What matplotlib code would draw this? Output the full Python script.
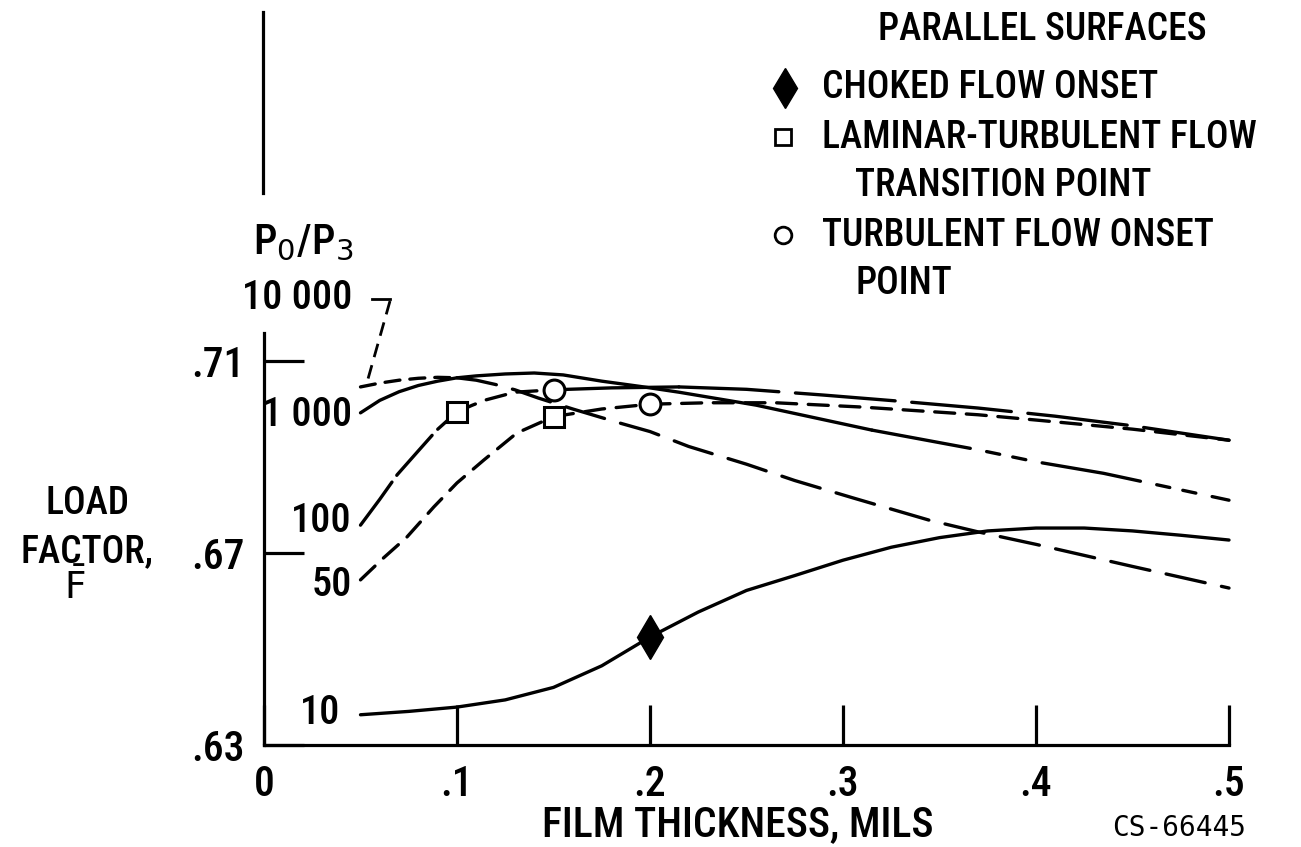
import numpy as np
import matplotlib
matplotlib.use("Agg")
from matplotlib import pyplot as plt

# --- curve data (film thickness in mils, load factor) ---
# P0/P3 = 10
x10 = [0.05, 0.075, 0.1, 0.125, 0.15, 0.175, 0.2, 0.225, 0.25, 0.275, 0.3, 0.325, 0.35, 0.375, 0.4, 0.425, 0.45, 0.475, 0.5]
y10 = [0.6363, 0.637, 0.6379, 0.6394, 0.642, 0.6465, 0.6525, 0.6577, 0.6622, 0.6653, 0.6685, 0.6712, 0.6732, 0.6746, 0.6752, 0.6752, 0.6746, 0.6737, 0.6727]

# P0/P3 = 50
x50 = [0.05, 0.062, 0.074, 0.088, 0.1, 0.114, 0.131, 0.15, 0.175, 0.2, 0.23, 0.265, 0.31, 0.37, 0.4, 0.45, 0.5]
y50 = [0.6644, 0.669, 0.6733, 0.6796, 0.6846, 0.6894, 0.695, 0.6984, 0.7, 0.701, 0.7013, 0.7013, 0.7004, 0.6988, 0.6977, 0.6958, 0.6935]

# P0/P3 = 100
x100 = [0.05, 0.06, 0.069, 0.08, 0.0895, 0.1, 0.108, 0.115, 0.13, 0.15, 0.18, 0.215, 0.25, 0.29, 0.33, 0.37, 0.41, 0.45, 0.5]
y100 = [0.6758, 0.6812, 0.6863, 0.6913, 0.6956, 0.6994, 0.7008, 0.7019, 0.7035, 0.704, 0.7044, 0.7046, 0.7041, 0.7029, 0.7016, 0.7002, 0.6985, 0.6965, 0.6935]

# P0/P3 = 1000
x1000 = [0.05, 0.06, 0.07, 0.08, 0.09, 0.1, 0.11, 0.125, 0.14, 0.155, 0.175, 0.195, 0.215, 0.255, 0.315, 0.37, 0.4, 0.435, 0.5]
y1000 = [0.6992, 0.7018, 0.7036, 0.7049, 0.7058, 0.7065, 0.7069, 0.7073, 0.7075, 0.7071, 0.7058, 0.7047, 0.7035, 0.7008, 0.6956, 0.6915, 0.689, 0.6866, 0.681]

# P0/P3 = 10 000
x10k = [0.05, 0.06, 0.07, 0.08, 0.09, 0.1, 0.11, 0.12, 0.13, 0.142, 0.16, 0.185, 0.2, 0.22, 0.25, 0.275, 0.305, 0.345, 0.37, 0.4, 0.45, 0.5]
y10k = [0.7046, 0.7054, 0.706, 0.7064, 0.7066, 0.7065, 0.706, 0.7051, 0.704, 0.7023, 0.7, 0.697, 0.6953, 0.6922, 0.6885, 0.6851, 0.6815, 0.6768, 0.6744, 0.6718, 0.6672, 0.6627]

# markers: (x, y)
choked = [(0.2, 0.6525)]
transition = [(0.1, 0.6994), (0.15, 0.6984)]
turbulent = [(0.15, 0.704), (0.2, 0.701)]

xticks = [0, 0.1, 0.2, 0.3, 0.4, 0.5]
xticklabels = ["0", ".1", ".2", ".3", ".4", ".5"]
yticks = [0.63, 0.67, 0.71]
yticklabels = [".63", ".67", ".71"]

plt.rcParams["font.family"] = ["Roboto Condensed", "DejaVu Sans"]
plt.rcParams["font.weight"] = 500

LW = 2.4
short = (0, (4.5, 3))
medium = (0, (6, 3.5))
longd = (0, (12, 5))
longer = (0, (16, 2.5))
dashdotdot = (0, (30, 5, 4, 4, 4, 5))

fig = plt.figure(figsize=(13.01, 8.47), dpi=100)
W, H = 1301, 847
ax = fig.add_axes([264 / W, 1 - 745 / H, (1229 - 264) / W, (745 - 333) / H])


def seg(x, y, pieces):
    for a, b, ls in pieces:
        ax.plot(x[a:b + 1], y[a:b + 1], color="black", lw=LW, linestyle=ls,
                solid_capstyle="round", dash_capstyle="round", clip_on=False)


seg(x10, y10, [(0, len(x10) - 1, "-")])
seg(x50, y50, [(0, 7, medium), (7, 9, medium), (9, len(x50) - 1, medium)])
seg(x100, y100, [(0, 5, longer), (5, 9, medium), (9, 11, "-"), (11, len(x100) - 1, (0, (30, 5)))])
seg(x1000, y1000, [(0, 14, "-"), (14, len(x1000) - 1, dashdotdot)])
seg(x10k, y10k, [(0, 5, short), (5, len(x10k) - 1, longd)])

ax.plot([p[0] for p in transition], [p[1] for p in transition], "s", ms=14,
        mfc="white", mec="black", mew=2.2, zorder=5)
ax.plot([p[0] for p in turbulent], [p[1] for p in turbulent], "o", ms=15,
        mfc="white", mec="black", mew=2.2, zorder=5)
ax.plot([p[0] for p in choked], [p[1] for p in choked], "d", ms=22,
        color="black", zorder=5)

ax.set_xlim(0, 0.5)
ax.set_ylim(0.63, 0.63 + 412 / 4800)
for s in ["top", "right"]:
    ax.spines[s].set_visible(False)
for s in ["left", "bottom"]:
    ax.spines[s].set_linewidth(2.3)
ax.set_xticks(xticks)
ax.set_xticklabels(xticklabels)
ax.set_yticks(yticks)
ax.set_yticklabels(yticklabels)
ax.tick_params(direction="in", length=29, width=2.3, labelsize=30, pad=14)
ax.set_facecolor("none")

# overlay in pixel space for the annotations
ov = fig.add_axes([0, 0, 1, 1], zorder=-1)
ov.set_xlim(0, W)
ov.set_ylim(H, 0)
ov.axis("off")

ov.plot([263, 263], [12, 193], color="black", lw=2.3)
ov.text(303, 243, r"P$_0$/P$_3$", fontsize=30, ha="center", va="center")
ov.text(352, 298, "10 000", fontsize=29, ha="right", va="center")
ov.plot([372, 390], [299, 299], color="black", lw=2)
ov.plot([390, 366], [301, 386], color="black", lw=2, linestyle=(0, (5, 3)))
ov.text(352, 415, "1 000", fontsize=29, ha="right", va="center")
ov.text(352, 521, "100", fontsize=29, ha="right", va="center")
ov.text(352, 585, "50", fontsize=29, ha="right", va="center")
ov.text(340, 713, "10", fontsize=29, ha="right", va="center")

ov.text(87, 504, "LOAD", fontsize=27, ha="center", va="center")
ov.text(87, 552, "FACTOR,", fontsize=27, ha="center", va="center")
ov.text(75, 588, r"$\bar{\mathrm{F}}$", fontsize=27, ha="center", va="center")

ov.text(738, 825, "FILM THICKNESS, MILS", fontsize=30, ha="center", va="center")
ov.text(1179, 828, "CS-66445", fontsize=20, ha="center", va="center",
        family="DejaVu Sans Mono", weight="normal")

ov.text(878, 30, "PARALLEL SURFACES", fontsize=27, ha="left", va="center")
ov.plot([785], [88], "d", ms=20, color="black")
ov.text(822, 88, "CHOKED FLOW ONSET", fontsize=27, ha="left", va="center")
ov.plot([783], [137], "s", ms=11, mfc="white", mec="black", mew=2)
ov.text(822, 137, "LAMINAR-TURBULENT FLOW", fontsize=27, ha="left", va="center")
ov.text(855, 185, "TRANSITION POINT", fontsize=27, ha="left", va="center")
ov.plot([783], [235], "o", ms=12, mfc="white", mec="black", mew=2)
ov.text(822, 235, "TURBULENT FLOW ONSET", fontsize=27, ha="left", va="center")
ov.text(855, 283, "POINT", fontsize=27, ha="left", va="center")

fig.savefig("out.png", dpi=100)
